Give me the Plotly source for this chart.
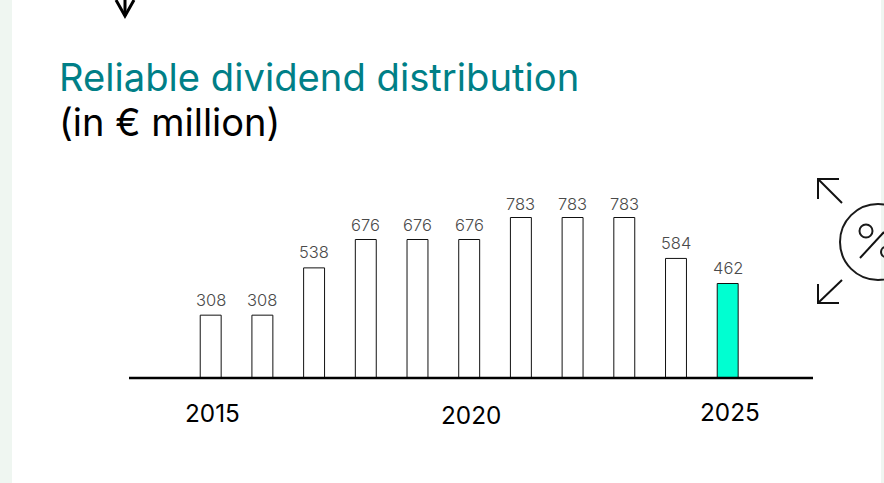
import plotly.graph_objects as go

years = [2015, 2016, 2017, 2018, 2019, 2020, 2021, 2022, 2023, 2024, 2025]
dividends = [308, 308, 538, 676, 676, 676, 783, 783, 783, 584, 462]
label_lift = [15.5, 15.5, 16, 15, 15, 15, 13.5, 13.5, 13.5, 15.5, 16]
bar_colors = ["#ffffff"] * 10 + ["#00FFD1"]
axis_labels = ["2015", "2020", "2025"]
axis_label_years = [2015, 2020, 2025]
axis_label_nudge = [(2, 0), (2, -2), (2, 1)]
title_main = "Reliable dividend distribution"
title_sub = "(in € million)"

W, H = 884, 483
FONT = "Inter, Liberation Sans, sans-serif"
px = lambda x: x / W
py = lambda y: 1 - y / H

fig = go.Figure(go.Bar(
    x=years, y=dividends, width=0.405,
    marker=dict(color=bar_colors, line=dict(color="#111111", width=1)),
    hoverinfo="skip",
))

shapes = []
def rect(x0, y0, x1, y1, color):
    shapes.append(dict(type="rect", xref="paper", yref="paper", layer="below",
                       x0=px(x0), x1=px(x1), y0=py(y0), y1=py(y1),
                       fillcolor=color, line=dict(width=0)))
def poly(points, width=2, color="#111111"):
    d = "M " + " L ".join(f"{px(a):.5f},{py(b):.5f}" for a, b in points)
    shapes.append(dict(type="path", xref="paper", yref="paper", path=d,
                       line=dict(color=color, width=width)))
def circle(cx, cy, r, width=2):
    shapes.append(dict(type="circle", xref="paper", yref="paper",
                       x0=px(cx - r), x1=px(cx + r), y0=py(cy + r), y1=py(cy - r),
                       line=dict(color="#1a1a1a", width=width)))

rect(0, 0, 12, H, "#EFF6F1")
rect(881, 0, 884, H, "#EFF6F1")
# baseline
poly([(129, 378), (813, 378)], 2.5, "#000000")
# top arrow
poly([(125, -2), (125, 16)], 3, "#000000")
poly([(116, 0), (125, 16), (134, 0)], 3, "#000000")
# expand icon
poly([(818, 199), (818, 179), (839, 179)])
poly([(818, 179), (842, 203)])
poly([(818, 284), (818, 303), (839, 303)])
poly([(818, 303), (842, 280)])
# percent icon
circle(878, 242, 38)
circle(866, 231, 6.5)
poly([(860, 258), (884, 232)])
circle(886, 252, 5)

annotations = [
    dict(text=title_main, xref="paper", yref="paper", x=px(57), y=py(77), xanchor="left", yanchor="middle",
         showarrow=False, font=dict(family=FONT, size=38.2, color="#007F87")),
    dict(text=title_sub, xref="paper", yref="paper", x=px(57), y=py(122), xanchor="left", yanchor="middle",
         showarrow=False, font=dict(family=FONT, size=38, color="#000000")),
]
for yr, val, lift in zip(years, dividends, label_lift):
    annotations.append(dict(text=str(val), x=yr, y=val, xref="x", yref="y", yanchor="middle",
                            yshift=lift, showarrow=False,
                            font=dict(family=FONT, size=16.5, color="#4a4a4a", weight=300)))
for label, yr, (dx, dy) in zip(axis_labels, axis_label_years, axis_label_nudge):
    annotations.append(dict(text=label, x=yr, xref="x", yref="paper", y=py(413), yanchor="middle",
                            xshift=dx, yshift=dy, showarrow=False,
                            font=dict(family=FONT, size=24.3, color="#000000")))

fig.update_layout(
    width=W, height=H, margin=dict(l=0, r=0, t=0, b=0),
    paper_bgcolor="#ffffff", plot_bgcolor="rgba(0,0,0,0)", showlegend=False,
    shapes=shapes, annotations=annotations,
    xaxis=dict(domain=[px(129), px(813)], range=[2013.42, 2026.65], showgrid=False, zeroline=False,
               showticklabels=False, ticks="", showline=False),
    yaxis=dict(domain=[py(378.5), py(180.5)], range=[0, 963], visible=False, showgrid=False, zeroline=False),
)
fig.write_html("out.html", config=dict(displayModeBar=False),
               post_script="document.body.style.margin='0';document.body.style.overflow='hidden';")
